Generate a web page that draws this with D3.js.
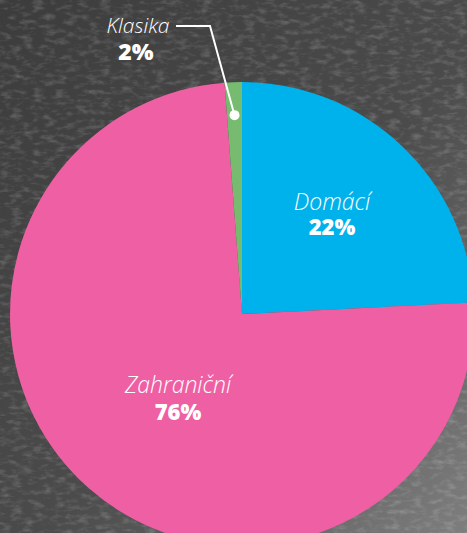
<!DOCTYPE html>
<html>
<head>
<meta charset="utf-8">
<script src="https://cdn.jsdelivr.net/npm/d3@7"></script>
<style>
  html, body { margin: 0; padding: 0; background: #4a4a4a; overflow: hidden; }
  .lbl { font-family: "Open Sans", "Noto Sans", sans-serif; fill: #fff; }
  .name { font-style: italic; font-weight: 300; }
  .pct { font-style: normal; font-weight: 800; }
</style>
</head>
<body>
<div id="wrapper"></div>
<script>
// data, as drawn
const categories = ["Domácí", "Zahraniční", "Klasika"];
const shares = [24.2, 74.6, 1.2];      // slice sizes
const labels = ["22%", "76%", "2%"];   // printed labels
const colors = ["#00b2eb", "#ef5fa3", "#76bb6f"];

const width = 467;
const height = 533;
const cx = 242, cy = 314, radius = 232;

const svg = d3.select("#wrapper")
  .append("svg")
  .attr("width", width)
  .attr("height", height)
  .style("display", "block");

// stone-ish background
const defs = svg.append("defs");
const grad = defs.append("linearGradient")
  .attr("id", "bg").attr("x1", 0).attr("y1", 0).attr("x2", 1).attr("y2", 1);
grad.append("stop").attr("offset", "0%").attr("stop-color", "#3c3c3c");
grad.append("stop").attr("offset", "55%").attr("stop-color", "#4b4b4b");
grad.append("stop").attr("offset", "100%").attr("stop-color", "#7e7e7e");

const filter = defs.append("filter").attr("id", "grain")
  .attr("x", 0).attr("y", 0).attr("width", "100%").attr("height", "100%");
filter.append("feTurbulence")
  .attr("type", "fractalNoise")
  .attr("baseFrequency", "0.09 0.2")
  .attr("numOctaves", 3)
  .attr("seed", 4);
filter.append("feColorMatrix")
  .attr("type", "matrix")
  .attr("values", "0 0 0 0 1  0 0 0 0 1  0 0 0 0 1  1.2 0 0 0 -0.55");

svg.append("rect").attr("width", width).attr("height", height).attr("fill", "url(#bg)");
svg.append("rect").attr("width", width).attr("height", height)
  .attr("filter", "url(#grain)").attr("opacity", 0.35);

const data = categories.map((c, i) => ({ name: c, value: shares[i], label: labels[i], color: colors[i] }));

const pie = d3.pie().sort(null).value(d => d.value);
const arcs = pie(data);

const arc = d3.arc().innerRadius(0).outerRadius(radius);

const g = svg.append("g").attr("transform", `translate(${cx},${cy})`);

g.selectAll("path")
  .data(arcs)
  .join("path")
  .attr("d", arc)
  .attr("fill", d => d.data.color);

// two-line label: name + percent, one text element
const addLabel = (parent, x, y, d, nameSize, pctSize, gap, pctX) => {
  const t = parent.append("text").attr("class", "lbl").attr("text-anchor", "middle");
  t.append("tspan").attr("class", "name")
    .attr("x", x).attr("y", y)
    .attr("font-size", nameSize)
    .text(d.data.name);
  t.append("tspan").attr("class", "pct")
    .attr("x", pctX === undefined ? x : pctX).attr("y", y + gap)
    .attr("font-size", pctSize)
    .text(d.data.label);
};

addLabel(g, 90, -104, arcs[0], 23, 22, 25);
addLabel(g, -64, 79, arcs[1], 23, 22, 27);

// Klasika callout
const small = arcs[2];
const dot = d3.arc().innerRadius(199).outerRadius(199).centroid(small);
const lineY = 26 - cy;
g.append("path")
  .attr("d", d3.line()([[176 - cx, lineY], [210 - cx, lineY], dot]))
  .attr("fill", "none")
  .attr("stroke", "#fff")
  .attr("stroke-width", 2);
g.append("circle")
  .attr("cx", dot[0]).attr("cy", dot[1]).attr("r", 5)
  .attr("fill", "#fff");

addLabel(svg, 138, 33, small, 21, 23, 27, 136);
</script>
</body>
</html>
